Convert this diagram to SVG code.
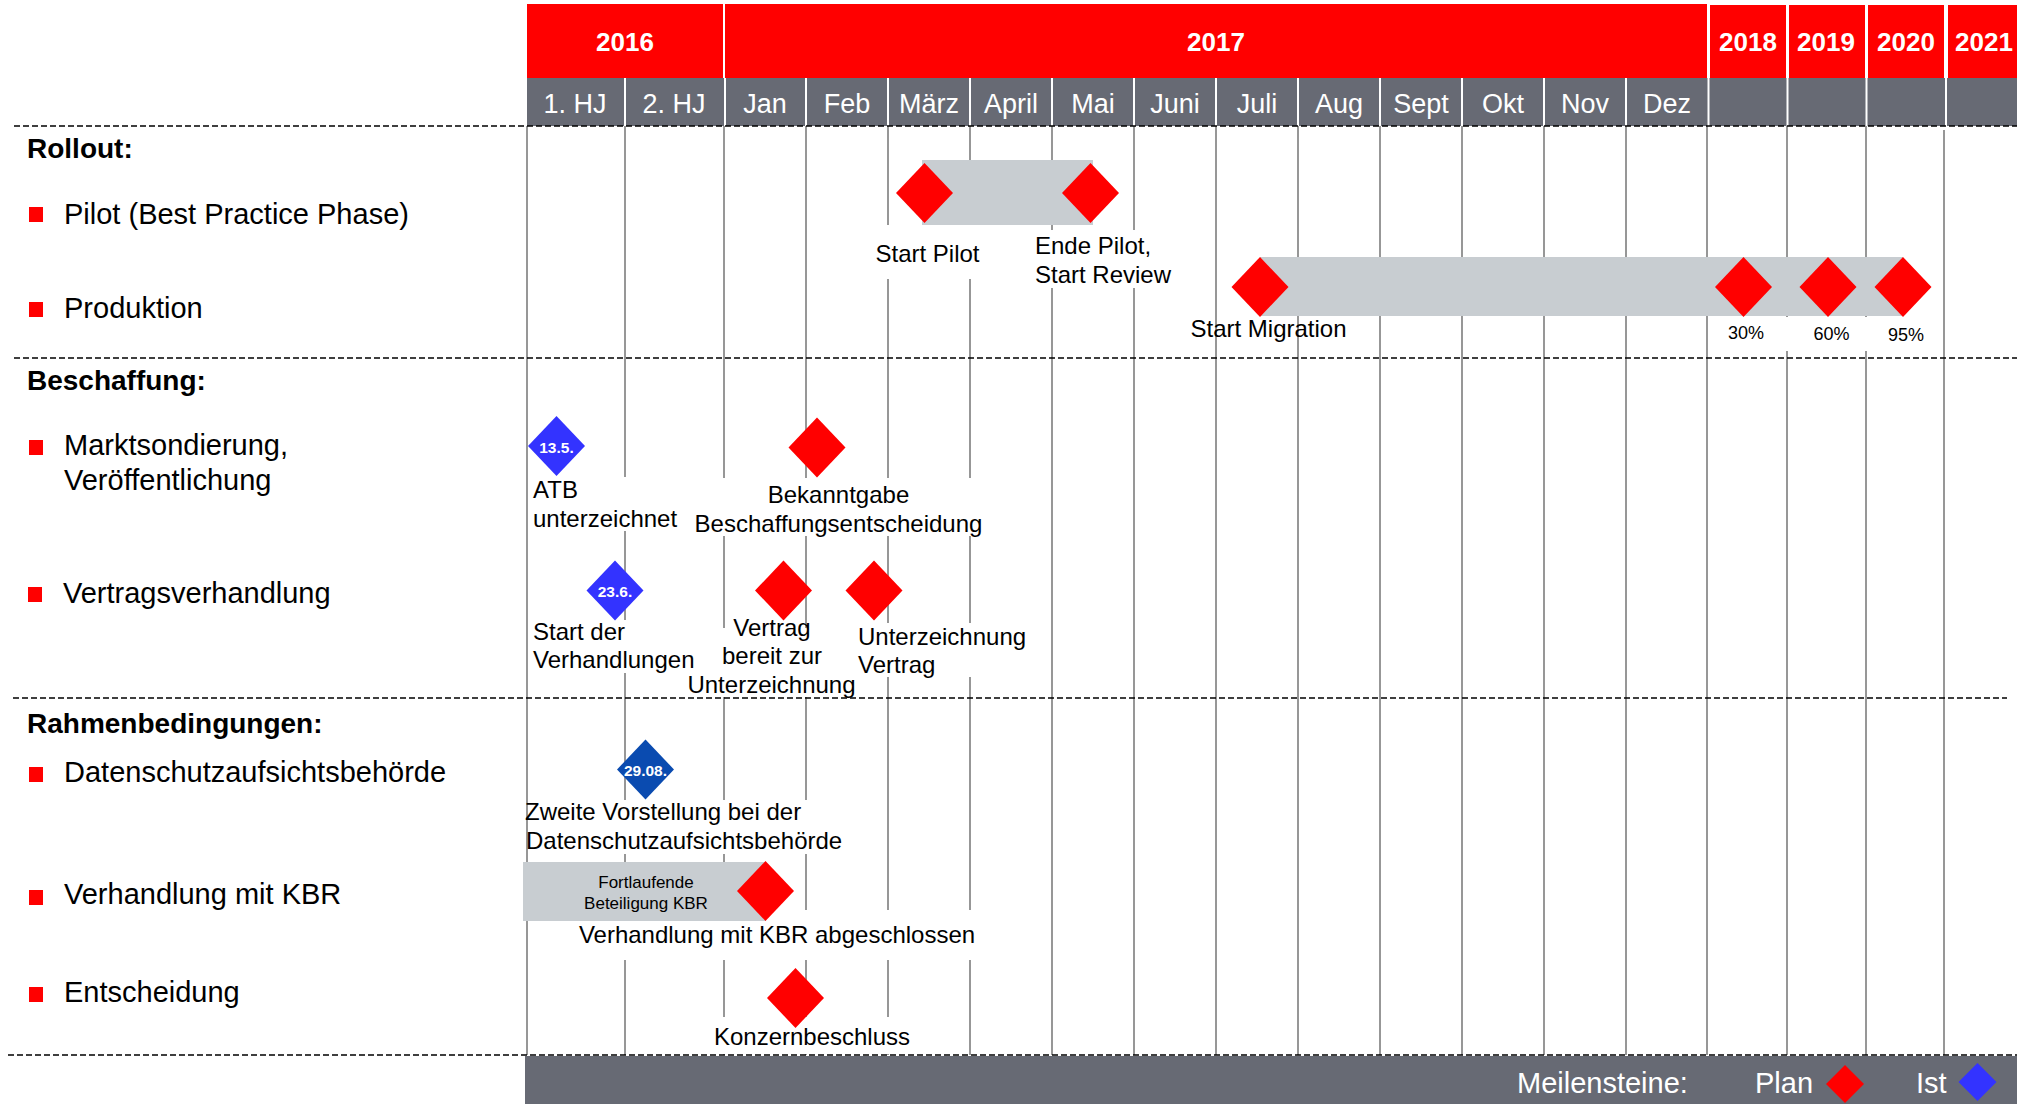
<svg xmlns="http://www.w3.org/2000/svg" xmlns:xlink="http://www.w3.org/1999/xlink" width="2017" height="1104" viewBox="0 0 2017 1104">
<style>
text{font-family:"Liberation Sans",Arial,sans-serif}
.lbl{font-size:24px;fill:#000}
.item{font-size:29px;fill:#000}
.sec{font-size:28px;font-weight:bold;fill:#000}
.hdr{font-size:27px;fill:#fff;text-anchor:middle}
.yr{font-size:26px;font-weight:bold;fill:#fff;text-anchor:middle}
.dt{font-size:15.5px;font-weight:bold;fill:#fff;text-anchor:middle}
.pct{font-size:18px;fill:#000;text-anchor:middle}
.mid{text-anchor:middle}
.grid line{stroke:#8c8c8c;stroke-width:1.8}
.sep line{stroke:#fff;stroke-width:2}
.dash{stroke:#000;stroke-width:1.5;stroke-dasharray:6 3;fill:none}
.bar{fill:#c8cdd1}
.plan{fill:#ff0000}
.ist{fill:#3333ff}
.ist2{fill:#0a4bb0}
.mask{fill:#fff}
.bul{fill:#ff0000}
.gray{fill:#676a74}
.red{fill:#ff0000}
.leg{font-size:29px;fill:#fff}
</style>
<defs>
<path id="dm" d="M0,-30 L28.5,0 L0,30 L-28.5,0Z"/>
<path id="dl" d="M0,-19 L19,0 L0,19 L-19,0Z"/>
</defs>
<rect width="2017" height="1104" fill="#fff"/>

<g id="header">
<rect class="red" x="527" y="4" width="1180" height="74"/>
<rect class="red" x="1710" y="5" width="76" height="73"/>
<rect class="red" x="1789" y="5" width="76" height="73"/>
<rect class="red" x="1868" y="5" width="76" height="73"/>
<rect class="red" x="1948" y="5" width="69" height="73"/>
<line x1="724" y1="4" x2="724" y2="78" stroke="#fff" stroke-width="2"/>
<rect class="gray" x="527" y="78" width="1490" height="48"/>
<g class="sep">
<line x1="625" y1="78" x2="625" y2="126"/>
<line x1="725" y1="78" x2="725" y2="126"/>
<line x1="806" y1="78" x2="806" y2="126"/>
<line x1="888" y1="78" x2="888" y2="126"/>
<line x1="970" y1="78" x2="970" y2="126"/>
<line x1="1052" y1="78" x2="1052" y2="126"/>
<line x1="1134" y1="78" x2="1134" y2="126"/>
<line x1="1216" y1="78" x2="1216" y2="126"/>
<line x1="1298" y1="78" x2="1298" y2="126"/>
<line x1="1380" y1="78" x2="1380" y2="126"/>
<line x1="1462" y1="78" x2="1462" y2="126"/>
<line x1="1544" y1="78" x2="1544" y2="126"/>
<line x1="1626" y1="78" x2="1626" y2="126"/>
<line x1="1708.5" y1="78" x2="1708.5" y2="126" stroke-width="3"/>
<line x1="1787.5" y1="78" x2="1787.5" y2="126" stroke-width="3"/>
<line x1="1866.5" y1="78" x2="1866.5" y2="126" stroke-width="3"/>
<line x1="1946" y1="78" x2="1946" y2="126" stroke-width="4"/>
</g>
<text class="yr" x="625" y="51">2016</text>
<text class="yr" x="1216" y="51">2017</text>
<text class="yr" x="1748" y="51">2018</text>
<text class="yr" x="1826" y="51">2019</text>
<text class="yr" x="1906" y="51">2020</text>
<text class="yr" x="1984" y="51">2021</text>
<text class="hdr" x="575" y="113">1. HJ</text>
<text class="hdr" x="674" y="113">2. HJ</text>
<text class="hdr" x="765" y="113">Jan</text>
<text class="hdr" x="847" y="113">Feb</text>
<text class="hdr" x="929" y="113">März</text>
<text class="hdr" x="1011" y="113">April</text>
<text class="hdr" x="1093" y="113">Mai</text>
<text class="hdr" x="1175" y="113">Juni</text>
<text class="hdr" x="1257" y="113">Juli</text>
<text class="hdr" x="1339" y="113">Aug</text>
<text class="hdr" x="1421" y="113">Sept</text>
<text class="hdr" x="1503" y="113">Okt</text>
<text class="hdr" x="1585" y="113">Nov</text>
<text class="hdr" x="1667" y="113">Dez</text>
</g>

<g id="grid" class="grid">
<line x1="527" y1="126" x2="527" y2="1055"/>
<line x1="625" y1="126" x2="625" y2="1055"/>
<line x1="724" y1="126" x2="724" y2="1055"/>
<line x1="806" y1="126" x2="806" y2="1055"/>
<line x1="888" y1="126" x2="888" y2="1055"/>
<line x1="970" y1="126" x2="970" y2="1055"/>
<line x1="1052" y1="126" x2="1052" y2="1055"/>
<line x1="1134" y1="126" x2="1134" y2="1055"/>
<line x1="1216" y1="126" x2="1216" y2="1055"/>
<line x1="1298" y1="126" x2="1298" y2="1055"/>
<line x1="1380" y1="126" x2="1380" y2="1055"/>
<line x1="1462" y1="126" x2="1462" y2="1055"/>
<line x1="1544" y1="126" x2="1544" y2="1055"/>
<line x1="1626" y1="126" x2="1626" y2="1055"/>
<line x1="1707" y1="126" x2="1707" y2="1055"/>
<line x1="1787" y1="126" x2="1787" y2="1055"/>
<line x1="1866" y1="126" x2="1866" y2="1055"/>
<line x1="1944" y1="130" x2="1944" y2="1055"/>
</g>

<g id="label-masks">
<rect class="mask" x="870" y="225" width="118" height="54"/>
<rect class="mask" x="1030" y="230" width="140" height="58"/>
<rect class="mask" x="1782" y="317" width="70" height="34"/>
<rect class="mask" x="1862" y="317" width="70" height="34"/>
<rect class="mask" x="530" y="477" width="150" height="54"/>
<rect class="mask" x="690" y="478" width="295" height="58"/>
<rect class="mask" x="530" y="620" width="172" height="53"/>
<rect class="mask" x="685" y="628" width="170" height="69"/>
<rect class="mask" x="856" y="623" width="174" height="54"/>
<rect class="mask" x="529" y="800" width="316" height="54"/>
<rect class="mask" x="575" y="910" width="405" height="50"/>
<rect class="mask" x="710" y="1017" width="205" height="37"/>
</g>

<g id="dividers">
<line class="dash" x1="14" y1="126" x2="2017" y2="126"/>
<line class="dash" x1="14" y1="358" x2="2017" y2="358"/>
<line class="dash" x1="13" y1="698" x2="2007" y2="698"/>
<line class="dash" x1="8" y1="1055" x2="2017" y2="1055"/>
</g>

<g id="rows">
<text class="sec" x="27" y="158">Rollout:</text>
<rect class="bul" x="29" y="207" width="14" height="15"/>
<text class="item" x="64" y="224">Pilot (Best Practice Phase)</text>
<rect class="bul" x="29" y="302" width="14" height="15"/>
<text class="item" x="64" y="318">Produktion</text>
<text class="sec" x="27" y="390">Beschaffung:</text>
<rect class="bul" x="29" y="440" width="14" height="15"/>
<text class="item" x="64" y="455">Marktsondierung,</text>
<text class="item" x="64" y="490">Veröffentlichung</text>
<rect class="bul" x="28" y="587" width="14" height="15"/>
<text class="item" x="63" y="603">Vertragsverhandlung</text>
<text class="sec" x="27" y="733">Rahmenbedingungen:</text>
<rect class="bul" x="29" y="767" width="14" height="15"/>
<text class="item" x="64" y="782">Datenschutzaufsichtsbehörde</text>
<rect class="bul" x="29" y="890" width="14" height="15"/>
<text class="item" x="64" y="904">Verhandlung mit KBR</text>
<rect class="bul" x="29" y="987" width="14" height="15"/>
<text class="item" x="64" y="1002">Entscheidung</text>
</g>

<g id="bar-pilot"><rect class="bar" x="922" y="160" width="171" height="65"/></g>
<g id="bar-produktion"><rect class="bar" x="1260" y="257" width="643" height="59"/></g>
<g id="bar-kbr"><rect class="bar" x="523" y="862" width="243" height="59"/>
<text class="mid" x="646" y="888" font-size="17">Fortlaufende</text>
<text class="mid" x="646" y="909" font-size="17">Beteiligung KBR</text></g>

<g id="ms-start-pilot"><use xlink:href="#dm" class="plan" x="924.5" y="193"/>
<text class="lbl mid" x="927.5" y="262">Start Pilot</text></g>
<g id="ms-ende-pilot"><use xlink:href="#dm" class="plan" x="1090.5" y="193"/>
<text class="lbl" x="1035" y="254">Ende Pilot,</text>
<text class="lbl" x="1035" y="283">Start Review</text></g>
<g id="ms-start-migration"><use xlink:href="#dm" class="plan" x="1260" y="287"/>
<text class="lbl mid" x="1268.5" y="337">Start Migration</text></g>
<g id="ms-30"><use xlink:href="#dm" class="plan" x="1743.5" y="287"/>
<text class="pct" x="1746" y="339">30%</text></g>
<g id="ms-60"><use xlink:href="#dm" class="plan" x="1828" y="287"/>
<text class="pct" x="1831.5" y="340">60%</text></g>
<g id="ms-95"><use xlink:href="#dm" class="plan" x="1903" y="287"/>
<text class="pct" x="1906" y="341">95%</text></g>

<g id="ms-atb"><use xlink:href="#dm" class="ist" x="556.5" y="446"/>
<text class="dt" x="556.5" y="453">13.5.</text>
<text class="lbl" x="533" y="498">ATB</text>
<text class="lbl" x="533" y="527">unterzeichnet</text></g>
<g id="ms-bekanntgabe"><use xlink:href="#dm" class="plan" x="817" y="447.5"/>
<text class="lbl mid" x="838.5" y="503">Bekanntgabe</text>
<text class="lbl mid" x="838.5" y="532">Beschaffungsentscheidung</text></g>
<g id="ms-start-verhandlungen"><use xlink:href="#dm" class="ist" x="615" y="590.5"/>
<text class="dt" x="615" y="597">23.6.</text>
<text class="lbl" x="533" y="640">Start der</text>
<text class="lbl" x="533" y="668">Verhandlungen</text></g>
<g id="ms-vertrag-bereit"><use xlink:href="#dm" class="plan" x="783.5" y="590.5"/>
<text class="lbl mid" x="772" y="636">Vertrag</text>
<text class="lbl mid" x="772" y="664">bereit zur</text>
<text class="lbl mid" x="771.5" y="693">Unterzeichnung</text></g>
<g id="ms-unterzeichnung"><use xlink:href="#dm" class="plan" x="874" y="590.5"/>
<text class="lbl" x="858" y="645">Unterzeichnung</text>
<text class="lbl" x="858" y="673">Vertrag</text></g>

<g id="ms-datenschutz"><use xlink:href="#dm" class="ist2" x="645.5" y="769.5"/>
<text class="dt" x="645.5" y="776">29.08.</text>
<text class="lbl" x="525" y="820">Zweite Vorstellung bei der</text>
<text class="lbl" x="526" y="849">Datenschutzaufsichtsbehörde</text></g>
<g id="ms-kbr"><use xlink:href="#dm" class="plan" x="765.5" y="891"/>
<text class="lbl mid" x="777" y="943">Verhandlung mit KBR abgeschlossen</text></g>
<g id="ms-konzern"><use xlink:href="#dm" class="plan" x="795.5" y="998"/>
<text class="lbl mid" x="812" y="1045">Konzernbeschluss</text></g>

<g id="legend">
<rect class="gray" x="525" y="1056" width="1492" height="48"/>
<text class="leg" x="1517" y="1093">Meilensteine:</text>
<text class="leg" x="1755" y="1093">Plan</text>
<use xlink:href="#dl" class="plan" x="1845" y="1084"/>
<text class="leg" x="1916" y="1093">Ist</text>
<use xlink:href="#dl" class="ist" x="1977.5" y="1082"/>
</g>
</svg>
